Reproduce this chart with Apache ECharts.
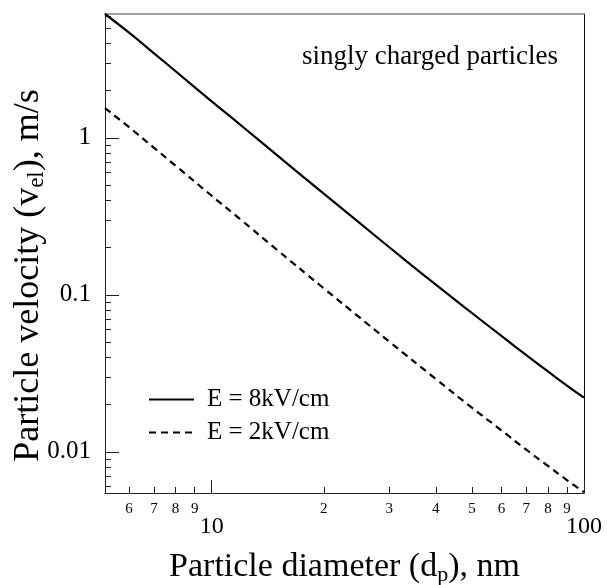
<!DOCTYPE html>
<html>
<head>
<meta charset="utf-8">
<script src="https://cdn.jsdelivr.net/npm/echarts@6/dist/echarts.min.js"></script>
<style>html,body{margin:0;padding:0;background:#fff;}#c{width:607px;height:585px;}</style>
</head>
<body>
<div id="c"></div>
<script>
// Particle diameter (nm)
var diameters = [5.17, 6, 7, 8, 10, 12, 15, 20, 25, 30, 40, 50, 60, 70, 80, 90, 100];
// Velocity at E = 8 kV/cm (m/s)
var vel8 = [6.16, 4.68, 3.46, 2.66, 1.71, 1.20, 0.773, 0.441, 0.286, 0.201, 0.116, 0.0766, 0.0547, 0.0413, 0.0325, 0.0264, 0.0221];
// Velocity at E = 2 kV/cm (m/s)
var vel2 = [1.55, 1.17, 0.865, 0.665, 0.428, 0.300, 0.193, 0.110, 0.0715, 0.0503, 0.0291, 0.0191, 0.0137, 0.0103, 0.00813, 0.0066, 0.00553];
var seriesNames = ['E = 8kV/cm', 'E = 2kV/cm'];
var xMajorTicks = [10, 100];
var xMinorTicks = [6, 7, 8, 9, 20, 30, 40, 50, 60, 70, 80, 90];
var yMajorTicks = [0.01, 0.1, 1];
var yMinorTicks = [0.006, 0.007, 0.008, 0.009, 0.02, 0.03, 0.04, 0.05, 0.06, 0.07, 0.08, 0.09,
                   0.2, 0.3, 0.4, 0.5, 0.6, 0.7, 0.8, 0.9, 2, 3, 4, 5, 6];
var xRange = [5.17, 100];
var yRange = [0.00546, 6.16];

var FONT = '"Liberation Serif", "DejaVu Serif", serif';
function pairs(xs, ys) { return xs.map(function (x, i) { return [x, ys[i]]; }); }
function digit(v) {
  var p = Math.pow(10, Math.floor(Math.log10(v) + 1e-9));
  return String(Math.round(v / p));
}

var chart = echarts.init(document.getElementById('c'), null, { renderer: 'canvas' });
var baseX = { type: 'log', logBase: 10, min: xRange[0], max: xRange[1], gridIndex: 0, splitLine: { show: false } };
var baseY = { type: 'log', logBase: 10, min: yRange[0], max: yRange[1], gridIndex: 0, splitLine: { show: false } };

chart.setOption({
  animation: false,
  backgroundColor: '#fff',
  title: {
    text: 'singly charged particles',
    left: 297, top: 38,
    textStyle: { fontFamily: FONT, fontSize: 27, fontWeight: 'normal', color: '#000' }
  },
  legend: {
    orient: 'vertical',
    left: 143, top: 382,
    itemWidth: 45, itemHeight: 14, itemGap: 8,
    itemStyle: { color: 'transparent', borderColor: 'transparent', borderWidth: 0, opacity: 0 },
    textStyle: { fontFamily: FONT, fontSize: 25, color: '#000', padding: [0, 0, 0, 8] },
    data: seriesNames
  },
  grid: { left: 105, right: 23, top: 14, bottom: 92, containLabel: false, outerBoundsMode: 'none' },
  xAxis: [
    Object.assign({}, baseX, {
      position: 'bottom',
      name: '{a|Particle diameter (d}{s|p}{a|), nm}',
      nameLocation: 'middle', nameGap: 55, nameMoveOverlap: false,
      nameTextStyle: {
        rich: {
          a: { fontFamily: FONT, fontSize: 34, color: '#000' },
          s: { fontFamily: FONT, fontSize: 22, color: '#000', padding: [16, 0, 0, 0] }
        }
      },
      axisLine: { show: true, lineStyle: { color: '#222', width: 1 } },
      axisTick: { show: true, inside: true, length: 13, customValues: xMajorTicks, lineStyle: { color: '#222' } },
      axisLabel: { show: true, customValues: xMajorTicks, margin: 22, fontFamily: FONT, fontSize: 24, color: '#000',
                   formatter: function (v) { return String(v); } }
    }),
    Object.assign({}, baseX, {
      position: 'bottom', offset: 0,
      axisLine: { show: false },
      axisTick: { show: true, inside: true, length: 6, customValues: xMinorTicks, lineStyle: { color: '#222' } },
      axisLabel: { show: true, customValues: xMinorTicks, margin: 9, fontFamily: FONT, fontSize: 15, color: '#000',
                   formatter: digit }
    }),
    Object.assign({}, baseX, {
      position: 'top',
      axisLine: { show: true, lineStyle: { color: '#808080', width: 1.5 } },
      axisTick: { show: false }, axisLabel: { show: false }
    })
  ],
  yAxis: [
    Object.assign({}, baseY, {
      position: 'left',
      name: '{a|Particle velocity (v}{s|el}{a|), m/s}',
      nameLocation: 'middle', nameGap: 57, nameMoveOverlap: false,
      nameTextStyle: {
        padding: [0, 44, 0, 0],
        rich: {
          a: { fontFamily: FONT, fontSize: 36, color: '#000' },
          s: { fontFamily: FONT, fontSize: 23, color: '#000', padding: [16, 0, 0, 0] }
        }
      },
      axisLine: { show: true, lineStyle: { color: '#222', width: 1 } },
      axisTick: { show: true, inside: true, length: 14, customValues: yMajorTicks, lineStyle: { color: '#222' } },
      axisLabel: { show: true, customValues: yMajorTicks, margin: 14, fontFamily: FONT, fontSize: 25, color: '#000',
                   formatter: function (v) { return String(v); } }
    }),
    Object.assign({}, baseY, {
      position: 'left', offset: 0,
      axisLine: { show: false },
      axisTick: { show: true, inside: true, length: 6, customValues: yMinorTicks, lineStyle: { color: '#222' } },
      axisLabel: { show: false }
    }),
    Object.assign({}, baseY, {
      position: 'right',
      axisLine: { show: true, lineStyle: { color: '#111', width: 1 } },
      axisTick: { show: false }, axisLabel: { show: false }
    })
  ],
  series: [
    {
      name: seriesNames[0], type: 'line', xAxisIndex: 0, yAxisIndex: 0,
      data: pairs(diameters, vel8), smooth: true, symbol: 'none',
      lineStyle: { color: '#000', width: 2.2, type: 'solid' }, itemStyle: { color: '#000' }
    },
    {
      name: seriesNames[1], type: 'line', xAxisIndex: 0, yAxisIndex: 0,
      data: pairs(diameters, vel2), smooth: true, symbol: 'none',
      lineStyle: { color: '#000', width: 2.2, type: [7, 5] }, itemStyle: { color: '#000' }
    }
  ]
});
</script>
</body>
</html>
